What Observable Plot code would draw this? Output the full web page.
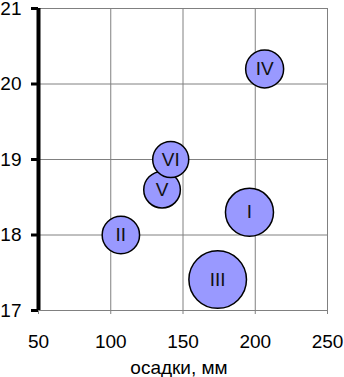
<!DOCTYPE html>
<html>
<head>
<meta charset="utf-8">
<script src="https://cdn.jsdelivr.net/npm/d3@7"></script>
<script src="https://cdn.jsdelivr.net/npm/@observablehq/plot@0.6"></script>
<style>
  html, body { margin: 0; padding: 0; background: #fff; }
</style>
</head>
<body>
<div id="chart"></div>
<script>
const labels = ["I", "II", "III", "IV", "V", "VI"];
const precip = [196, 107, 174, 206.5, 135.5, 141.5];
const temp = [18.3, 18.0, 17.41, 20.2, 18.6, 19.0];
const size = [16, 9.7, 23, 10, 9.3, 9];
const xTicks = [50, 100, 150, 200, 250];
const yTicks = [17, 18, 19, 20, 21];
const xLabel = "осадки, мм";

const data = labels.map((l, i) => ({label: l, x: precip[i], y: temp[i], s: size[i]}));

const chart = Plot.plot({
  width: 344,
  height: 377,
  marginLeft: 38,
  marginRight: 17,
  marginTop: 8,
  marginBottom: 67,
  style: {fontFamily: "'Liberation Sans', Arial, sans-serif", background: "#fff", overflow: "visible"},
  x: {domain: [50, 250]},
  y: {domain: [17, 21]},
  r: {domain: [0, 23], range: [0, 28.8]},
  marks: [
    Plot.gridX(xTicks, {stroke: "#808080", strokeOpacity: 1, strokeWidth: 1}),
    Plot.gridY(yTicks, {stroke: "#808080", strokeOpacity: 1, strokeWidth: 1}),
    Plot.axisX(xTicks, {tickSize: 4, stroke: "#808080", tickPadding: 20, fontSize: 19, fill: "#000",
      tickFormat: "d", label: null}),
    Plot.axisY(yTicks, {tickSize: 7, strokeWidth: 3, stroke: "#000", tickPadding: 10, fontSize: 19, fill: "#000",
      tickFormat: "d", label: null}),
    Plot.ruleX([50], {stroke: "#000", strokeWidth: 4, y1: 17, y2: 21}),
    Plot.dot(data, {x: "x", y: "y", r: "s", fill: "#9999ff", stroke: "#000", strokeWidth: 1.5}),
    Plot.text(data, {x: "x", y: "y", text: "label", fontSize: 19, fill: "#111"}),
    Plot.text([xLabel], {frameAnchor: "bottom", dy: 63, dx: -4, fontSize: 19, fill: "#000"})
  ]
});
document.getElementById("chart").append(chart);
</script>
</body>
</html>
